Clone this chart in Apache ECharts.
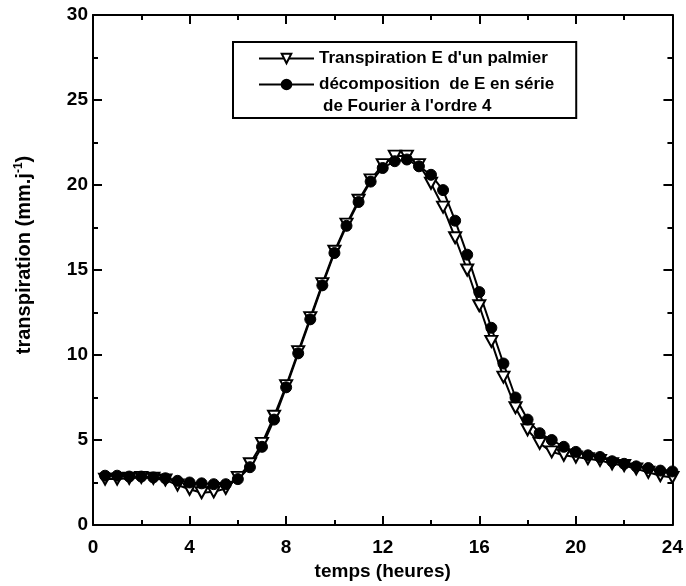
<!DOCTYPE html>
<html>
<head>
<meta charset="utf-8">
<script src="https://cdn.jsdelivr.net/npm/echarts@6/dist/echarts.min.js"></script>
<style>
html,body{margin:0;padding:0;background:#fff;}
#c{width:686px;height:586px;}
</style>
</head>
<body>
<div id="c"></div>
<script>
var hours = [0.5,1,1.5,2,2.5,3,3.5,4,4.5,5,5.5,6,6.5,7,7.5,8,8.5,9,9.5,10,10.5,11,11.5,12,12.5,13,13.5,14,14.5,15,15.5,16,16.5,17,17.5,18,18.5,19,19.5,20,20.5,21,21.5,22,22.5,23,23.5,24];
var transpirationE = [2.7,2.7,2.75,2.8,2.75,2.65,2.35,2.1,1.9,1.95,2.15,2.8,3.6,4.8,6.4,8.2,10.2,12.2,14.2,16.1,17.7,19.1,20.3,21.2,21.7,21.7,21.2,20.1,18.7,16.9,15.0,12.9,10.8,8.7,6.9,5.6,4.8,4.3,4.1,4.0,3.9,3.8,3.6,3.5,3.3,3.1,2.9,2.8];
var fourierE = [2.9,2.9,2.85,2.85,2.8,2.75,2.6,2.5,2.45,2.4,2.4,2.7,3.4,4.6,6.2,8.1,10.1,12.1,14.1,16.0,17.6,19.0,20.2,21.0,21.4,21.5,21.1,20.6,19.7,17.9,15.9,13.7,11.6,9.5,7.5,6.2,5.4,5.0,4.6,4.3,4.1,4.0,3.75,3.6,3.45,3.35,3.2,3.15];
var xTicks = {min:0, max:24, interval:4};
var yTicks = {min:0, max:30, interval:5};
var seriesNames = ["Transpiration E d'un palmier", "décomposition  de E en série"];
var legendExtra = "de Fourier à l'ordre 4";

function pairs(xs, ys){ return xs.map(function(x,i){ return [x, ys[i]]; }); }

var FONT = '"Liberation Sans", Arial, sans-serif';
var axisCommon = function(pos, showLabel){
  return {
    type:'value', position:pos,
    axisLine:{show:true, onZero:false, lineStyle:{color:'#000', width:2}},
    axisTick:{show:true, inside:true, length:9, lineStyle:{color:'#000', width:2}},
    minorTick:{show:true, splitNumber:2, length:5, lineStyle:{color:'#000', width:2}},
    splitLine:{show:false},
    axisLabel:{show:showLabel, color:'#000', fontFamily:FONT, fontWeight:'bold', fontSize:19},
  };
};

var chart = echarts.init(document.getElementById('c'), null, {renderer:'canvas'});
var xb = axisCommon('bottom', true);
Object.assign(xb, xTicks, {name:'temps (heures)', nameLocation:'middle', nameGap:37,
  nameTextStyle:{color:'#000', fontFamily:FONT, fontWeight:'bold', fontSize:19}});
xb.axisLabel.margin = 13;
var xt = axisCommon('top', false);
Object.assign(xt, xTicks);
var yl = axisCommon('left', true);
Object.assign(yl, yTicks, {name:'transpiration (mm.j{s|-1})', nameLocation:'middle', nameGap:58,
  nameTextStyle:{color:'#000', fontFamily:FONT, fontWeight:'bold', fontSize:20, padding:[0,0,0,30],
    rich:{s:{fontFamily:FONT, fontWeight:'bold', fontSize:12, verticalAlign:'top', padding:[0,0,10,0], color:'#000'}}}});
yl.axisLabel.margin = 5;
var yr = axisCommon('right', false);
Object.assign(yr, yTicks);

chart.setOption({
  animation:false,
  backgroundColor:'#fff',
  grid:{left:93, right:6, top:15, bottom:61, containLabel:false},
  xAxis:[xb, xt],
  yAxis:[yl, yr],
  legend:{
    left:233, top:42, orient:'vertical',
    itemWidth:55, itemHeight:12, itemGap:9,
    padding:[8,22,25,25],
    borderColor:'#000', borderWidth:2,
    textStyle:{color:'#000', fontFamily:FONT, fontWeight:'bold', fontSize:17},
    data:[seriesNames[0], seriesNames[1]]
  },
  graphic:[{type:'text', left:323, top:98, style:{text:legendExtra, fill:'#000', font:'bold 17px ' + FONT}}],
  series:[
    {name:seriesNames[0], type:'line', xAxisIndex:0, yAxisIndex:0, data:pairs(hours, transpirationE),
      symbol:'triangle', symbolRotate:180, symbolSize:[12,11],
      itemStyle:{color:'#fff', borderColor:'#000', borderWidth:2},
      lineStyle:{color:'#000', width:2}},
    {name:seriesNames[1], type:'line', xAxisIndex:0, yAxisIndex:0, data:pairs(hours, fourierE),
      symbol:'circle', symbolSize:11,
      itemStyle:{color:'#000', borderColor:'#000', borderWidth:1},
      lineStyle:{color:'#000', width:2}}
  ]
});
</script>
</body>
</html>
